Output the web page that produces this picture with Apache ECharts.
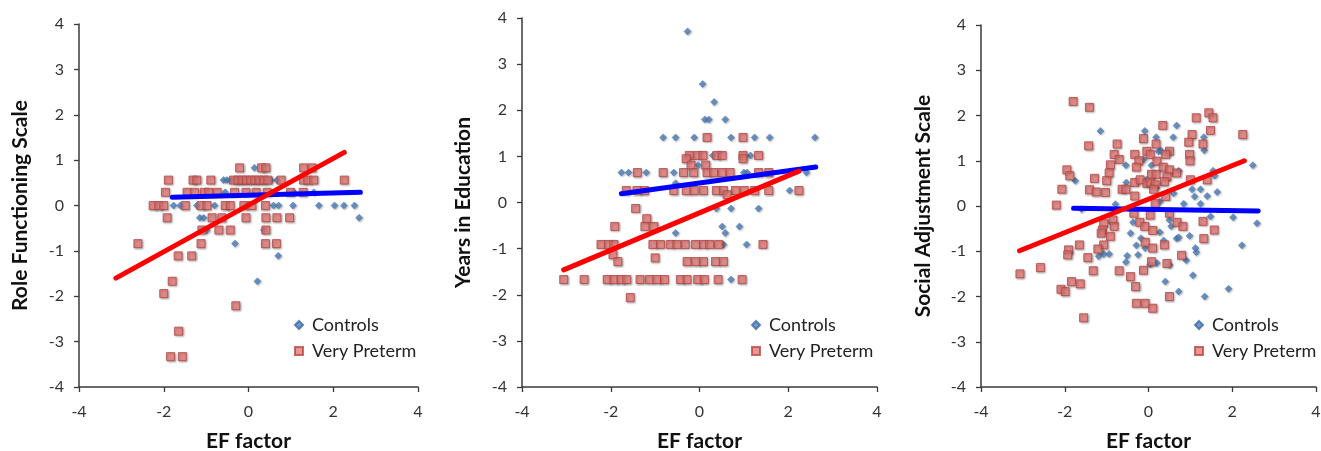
<!DOCTYPE html>
<html>
<head>
<meta charset="utf-8">
<script src="https://cdn.jsdelivr.net/npm/echarts@6/dist/echarts.min.js"></script>
<style>
  html, body { margin: 0; padding: 0; background: #fff; }
  #chart { width: 1321px; height: 451px; }
</style>
</head>
<body>
<div id="chart"></div>
<script>
// panel titles
const yTitles = ['Role Functioning Scale', 'Years in Education', 'Social Adjustment Scale']
const xTitle = 'EF factor'
const seriesNames = ['Controls', 'Very Preterm']

// panel 1: Role Functioning Scale
const roleControls = [
  [0.14, 0.83],
  [-0.59, 0.56], [-0.51, 0.56], [-0.43, 0.56], [0.52, 0.56], [0.67, 0.56],
  [-0.55, 0.29], [1.07, 0.29], [1.54, 0.29],
  [-1.77, 0], [-1.61, 0], [-1.22, 0], [-0.8, 0], [-0.04, 0], [0.59, 0], [0.71, 0],
  [1.05, 0], [1.66, 0], [2.03, 0], [2.25, 0], [2.5, 0],
  [-1.15, -0.27], [-1.06, -0.27], [2.61, -0.27],
  [-0.98, -0.54], [0.36, -0.54],
  [-0.32, -0.84], [0.7, -1.11], [0.21, -1.67]
]
const rolePreterm = [
  [-0.21, 0.83], [0.31, 0.83], [0.41, 0.83], [1.3, 0.83], [1.5, 0.83],
  [-1.89, 0.56], [-1.31, 0.56], [-1.22, 0.56], [-0.89, 0.56], [-0.35, 0.56], [-0.25, 0.56],
  [-0.15, 0.56], [-0.05, 0.56], [0.05, 0.56], [0.15, 0.56], [0.25, 0.56], [0.36, 0.56],
  [0.46, 0.56], [0.77, 0.56], [1.3, 0.56], [1.4, 0.56], [1.54, 0.56], [2.26, 0.56],
  [-1.96, 0.29], [-1.45, 0.29], [-1.27, 0.29], [-1.04, 0.29], [-0.94, 0.29], [-0.74, 0.29],
  [-0.33, 0.29], [-0.06, 0.29], [0.18, 0.29], [0.44, 0.29], [0.99, 0.29], [1.29, 0.29],
  [-2.25, 0], [-2.12, 0], [-2.0, 0], [-1.49, 0], [-1.12, 0], [-0.98, 0], [-0.55, 0],
  [-0.43, 0], [-0.11, 0], [0.08, 0], [0.4, 0],
  [-1.92, -0.27], [-0.86, -0.27], [-0.63, -0.27], [-0.06, -0.27], [0.41, -0.27], [0.67, -0.27], [0.97, -0.27],
  [-1.1, -0.54], [-0.7, -0.54], [-0.43, -0.54], [0.41, -0.54],
  [-2.61, -0.84], [-1.12, -0.84], [0.4, -0.84], [0.66, -0.84],
  [-1.66, -1.11], [-1.34, -1.11],
  [-1.8, -1.67], [-2.0, -1.94], [-0.3, -2.21], [-1.65, -2.77],
  [-1.84, -3.33], [-1.56, -3.33]
]
const roleControlsFit = [[-1.8, 0.18], [2.64, 0.29]]
const rolePretermFit = [[-3.13, -1.6], [2.26, 1.17]]

// panel 2: Years in Education
const eduControls = [
  [-0.27, 3.71], [0.07, 2.57], [0.33, 2.18],
  [0.12, 1.8], [0.21, 1.8], [0.58, 1.8],
  [-0.82, 1.41], [-0.54, 1.41], [-0.12, 1.41], [0.71, 1.41], [1.24, 1.41], [1.58, 1.41], [2.6, 1.41],
  [0.3, 1.02], [1.15, 1.02], [-0.03, 0.81],
  [-1.76, 0.65], [-1.6, 0.65], [-1.2, 0.65], [-0.58, 0.65], [1.0, 0.65], [1.07, 0.65], [2.41, 0.65],
  [-0.54, 0.42], [2.03, 0.26],
  [0.38, -0.13], [0.71, -0.13], [1.33, -0.13],
  [0.51, -0.52], [0.9, -0.52], [-0.54, -0.66], [0.58, -0.66],
  [0.54, -0.91], [1.06, -0.91], [0.71, -1.67]
]
const eduPreterm = [
  [0.17, 1.41], [0.98, 1.41],
  [-0.23, 1.02], [-0.04, 1.02], [0.08, 1.02], [0.39, 1.02], [0.51, 1.02], [0.98, 1.02], [1.33, 1.02],
  [-0.3, 0.95], [0.98, 0.95], [-0.19, 0.81], [0.14, 0.81],
  [-1.4, 0.65], [-0.82, 0.65], [-0.36, 0.65], [-0.13, 0.65], [0.17, 0.65], [0.32, 0.65],
  [0.51, 0.65], [0.69, 0.65], [1.33, 0.65], [1.56, 0.65],
  [-1.65, 0.26], [-1.41, 0.26], [-1.24, 0.26], [-0.58, 0.26], [-0.3, 0.26], [-0.12, 0.26],
  [0.09, 0.26], [0.38, 0.26], [0.54, 0.26], [0.81, 0.26], [1.01, 0.26], [1.24, 0.26],
  [1.56, 0.26], [2.24, 0.26], [0.62, 0.17],
  [-1.44, -0.13], [-1.19, -0.35],
  [-1.91, -0.52], [-1.23, -0.52], [-1.03, -0.52],
  [-2.22, -0.91], [-2.05, -0.91], [-1.93, -0.91], [-1.05, -0.91], [-0.88, -0.91], [-0.66, -0.91],
  [-0.51, -0.91], [-0.32, -0.91], [-0.09, -0.91], [0.09, -0.91], [0.23, -0.91], [0.43, -0.91], [1.43, -0.91],
  [-1.95, -1.13], [-1.0, -1.2],
  [-1.84, -1.28], [-0.28, -1.28], [-0.09, -1.28], [0.09, -1.28], [0.36, -1.28], [0.54, -1.28],
  [-3.06, -1.67], [-2.6, -1.67], [-2.08, -1.67], [-1.93, -1.67], [-1.77, -1.67], [-1.64, -1.67],
  [-1.34, -1.67], [-1.13, -1.67], [-0.96, -1.67], [-0.79, -1.67], [-0.43, -1.67], [-0.28, -1.67],
  [-0.04, -1.67], [0.11, -1.67], [0.42, -1.67], [0.96, -1.67],
  [-1.56, -2.06]
]
const eduControlsFit = [[-1.76, 0.19], [2.62, 0.77]]
const eduPretermFit = [[-3.06, -1.46], [2.24, 0.68]]

// panel 3: Social Adjustment Scale
const socialControls = [
  [-1.15, 1.66], [-0.09, 1.66], [0.67, 1.78], [0.18, 1.52], [0.59, 1.52], [1.32, 1.52],
  [1.33, 1.23], [0.24, 1.21], [0.3, 1.22], [-0.12, 1.03], [0.07, 0.9], [-0.54, 0.9], [2.49, 0.9],
  [-1.75, 0.56], [-0.53, 0.52], [-0.05, 0.58], [0.72, 0.78], [1.54, 0.78], [1.58, 0.67],
  [1.04, 0.37], [1.24, 0.37], [1.64, 0.31], [0.6, 0.28], [1.1, 0.21], [1.4, 0.22],
  [1.24, 0.05], [0.84, 0.05], [0.27, 0.1], [-0.79, 0.04], [-1.6, -0.07],
  [1.48, -0.23], [2.02, -0.25], [2.59, -0.38], [-0.37, -0.36], [0.5, -0.31], [0.54, -0.45],
  [0.27, -0.58], [-0.43, -0.6], [0.67, -0.72], [0.72, -0.69], [0.98, -0.66], [-0.18, -0.71],
  [0.36, -0.76], [-0.29, -0.87], [-0.08, -0.93], [1.12, -0.93], [1.14, -1.02], [2.23, -0.87],
  [-1.19, -1.11], [-1.07, -1.06], [-0.94, -1.06], [-0.51, -1.1], [-0.25, -1.08],
  [-0.54, -1.24], [0.2, -1.26], [0.5, -1.3], [0.9, -1.2], [0.04, -1.29],
  [1.06, -1.53], [0.4, -1.67], [0.72, -1.89], [1.34, -2.0], [1.91, -1.83]
]
const socialPreterm = [
  [-1.8, 2.31], [-1.41, 2.18], [2.25, 1.58], [1.14, 1.95], [1.44, 2.06], [1.54, 1.95],
  [1.48, 1.67], [1.04, 1.58], [0.96, 1.41], [1.3, 1.37], [0.34, 1.78], [-0.12, 1.49],
  [0.18, 1.37], [-0.75, 1.37], [-1.43, 1.33], [-0.82, 1.14], [-0.7, 1.03], [-0.33, 1.14],
  [-0.23, 1.0], [-0.04, 1.21], [0.04, 1.14], [0.2, 0.99], [0.5, 1.21], [0.41, 1.14],
  [0.98, 1.14], [0.99, 1.0], [-0.91, 0.91], [-0.29, 0.86], [0.35, 0.86], [-1.95, 0.8],
  [-1.88, 0.67], [-0.94, 0.73], [-1.29, 0.61], [-1.0, 0.56], [-0.33, 0.52], [-0.2, 0.58],
  [0.07, 0.7], [0.18, 0.7], [0.5, 0.8], [0.67, 0.73], [0.44, 0.65], [0.38, 0.54],
  [-0.04, 0.5], [0.04, 0.52], [0.16, 0.47], [1.4, 0.58], [1.0, 0.58],
  [-2.07, 0.37], [-1.41, 0.36], [-1.25, 0.31], [-1.03, 0.3], [-0.63, 0.37], [-0.54, 0.37],
  [-0.33, 0.22], [0.12, 0.37], [0.41, 0.21], [-2.2, 0.02], [0.16, 0.06],
  [-0.35, -0.16], [0.04, -0.2], [0.5, -0.16], [-0.85, -0.31], [-0.82, -0.45], [-1.07, -0.38],
  [-1.1, -0.53], [-1.13, -0.6], [-0.91, -0.67], [-0.21, -0.36], [-0.09, -0.45], [0.1, -0.54],
  [0.68, -0.36], [0.82, -0.45], [1.3, -0.34], [1.57, -0.53], [1.32, -0.72],
  [-1.07, -0.86], [-1.21, -0.95], [-1.65, -0.86], [-1.91, -0.97], [-1.93, -1.08], [-1.45, -1.14],
  [-0.08, -0.8], [0.1, -0.93], [0.38, -0.86], [0.79, -1.09],
  [-2.58, -1.36], [-3.07, -1.5], [-1.32, -1.43], [-0.7, -1.43], [-0.12, -1.42], [0.07, -1.23],
  [0.44, -1.27], [-0.43, -1.56], [-0.31, -1.78], [-1.84, -1.67], [-1.63, -1.72],
  [-2.09, -1.84], [-1.99, -1.89], [0.5, -2.0], [-0.29, -2.15], [-0.08, -2.15], [0.1, -2.26],
  [-1.55, -2.47]
]
const socialControlsFit = [[-1.79, -0.05], [2.62, -0.11]]
const socialPretermFit = [[-3.08, -0.99], [2.29, 1.0]]

const xTicks = { min: -4, max: 4, interval: 2 }
const yTicks = { min: -4, max: 4, interval: 1 }

// layout of the three panels (px)
const panels = [
  { left: 79, top: 24, width: 339, height: 363, nameGap: 48, legendLeft: 289,
    controls: roleControls, preterm: rolePreterm, cFit: roleControlsFit, pFit: rolePretermFit },
  { left: 522, top: 18, width: 355, height: 369, nameGap: 48, legendLeft: 746,
    controls: eduControls, preterm: eduPreterm, cFit: eduControlsFit, pFit: eduPretermFit },
  { left: 981, top: 25, width: 335, height: 362, nameGap: 47, legendLeft: 1189,
    controls: socialControls, preterm: socialPreterm, cFit: socialControlsFit, pFit: socialPretermFit }
]

const FONT = 'Lato, "Open Sans", sans-serif'
const axisLine = { show: true, onZero: false, lineStyle: { color: '#3a3a3a', width: 1.5 } }
const axisTick = { show: true, inside: false, length: 5, lineStyle: { color: '#3a3a3a', width: 1.3 } }
const axisLabel = { color: '#333', fontSize: 16, fontFamily: FONT }

const controlStyle = { color: '#4F81BD', borderColor: '#3A6AA5', borderWidth: 0.5,
  shadowBlur: 2, shadowColor: 'rgba(0,0,0,0.35)', shadowOffsetX: 1, shadowOffsetY: 1 }
const pretermStyle = { color: '#E67C79', borderColor: '#B84744', borderWidth: 1,
  shadowBlur: 2, shadowColor: 'rgba(0,0,0,0.35)', shadowOffsetX: 1, shadowOffsetY: 1 }

let grid = [], xAxis = [], yAxis = [], series = [], legend = []
panels.forEach(function (p, i) {
  grid.push({ left: p.left, top: p.top, width: p.width, height: p.height,
    containLabel: false, outerBoundsMode: 'none' })
  xAxis.push({
    type: 'value', gridIndex: i, min: xTicks.min, max: xTicks.max, interval: xTicks.interval,
    name: xTitle, nameLocation: 'middle', nameGap: 44,
    nameTextStyle: { fontSize: 21, fontWeight: 'bold', color: '#111', fontFamily: FONT },
    axisLine: axisLine, axisTick: axisTick, axisLabel: Object.assign({ margin: 17 }, axisLabel),
    splitLine: { show: false }
  })
  yAxis.push({
    type: 'value', gridIndex: i, min: yTicks.min, max: yTicks.max, interval: yTicks.interval,
    name: yTitles[i], nameLocation: 'middle', nameGap: p.nameGap,
    nameTextStyle: { fontSize: 21, fontWeight: 'bold', color: '#111', fontFamily: FONT },
    axisLine: axisLine, axisTick: axisTick, axisLabel: Object.assign({ margin: 15 }, axisLabel),
    splitLine: { show: false }
  })
  series.push({
    name: seriesNames[0], type: 'scatter', xAxisIndex: i, yAxisIndex: i,
    symbol: 'diamond', symbolSize: 7, itemStyle: controlStyle, data: p.controls, z: 2
  })
  series.push({
    name: seriesNames[1], type: 'scatter', xAxisIndex: i, yAxisIndex: i,
    symbol: 'rect', symbolSize: 8, itemStyle: pretermStyle, data: p.preterm, z: 3
  })
  series.push({
    type: 'line', xAxisIndex: i, yAxisIndex: i, data: p.cFit, showSymbol: false, symbol: 'none',
    lineStyle: { color: '#0000FF', width: 5, cap: 'round' }, z: 4, silent: true
  })
  series.push({
    type: 'line', xAxisIndex: i, yAxisIndex: i, data: p.pFit, showSymbol: false, symbol: 'none',
    lineStyle: { color: '#FF0000', width: 5, cap: 'round' }, z: 5, silent: true
  })
  legend.push({
    left: p.legendLeft, top: 311, orient: 'vertical', itemGap: 8,
    itemWidth: 8, itemHeight: 8,
    textStyle: { fontSize: 18, color: '#222', fontFamily: FONT, padding: [0, 0, 0, 4] },
    data: [{ name: seriesNames[0], icon: 'diamond' }, { name: seriesNames[1], icon: 'rect' }]
  })
})

const chart = echarts.init(document.getElementById('chart'), null, { renderer: 'canvas' })
chart.setOption({
  backgroundColor: '#fff',
  animation: false,
  grid: grid,
  xAxis: xAxis,
  yAxis: yAxis,
  legend: legend,
  series: series
})
</script>
</body>
</html>
